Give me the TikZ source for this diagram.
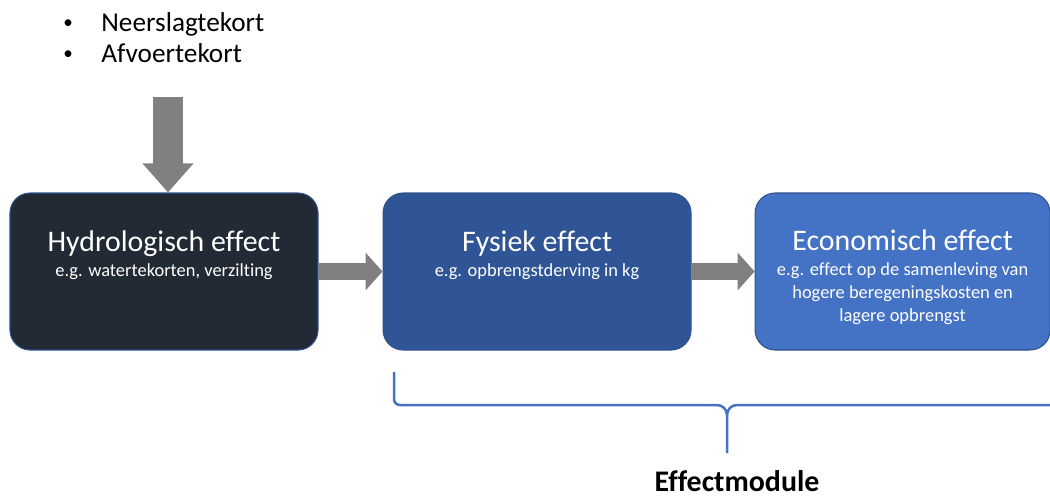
\documentclass[tikz,border=0pt]{standalone}
\usepackage{fontspec}
\setmainfont{Carlito}[Ligatures=NoCommon]
\usetikzlibrary{positioning,arrows.meta}
\definecolor{hydrocol}{HTML}{222A35}
\definecolor{fysiekcol}{HTML}{2F5597}
\definecolor{ecocol}{HTML}{4472C4}
\definecolor{rimcol}{HTML}{2F528F}
\definecolor{arrowgray}{HTML}{808080}
\newcommand{\inbullet}{\makebox[0.8cm][l]{\hspace{0.04cm}\raisebox{0.1em}{\scalebox{0.7}{\textbullet}}}}
\tikzset{
  effectbox/.style={draw=rimcol, line width=0.6pt, rounded corners=0.4cm, minimum height=3.14cm, inner sep=0pt},
  boxtitle/.style={text=white, font=\fontsize{17}{20}\selectfont, anchor=base, inner sep=0pt},
  boxsub/.style={text=white, font=\fontsize{10.5}{13}\selectfont, align=center, anchor=north, inner sep=0pt},
  flow/.style={draw=arrowgray, line width=0.34cm, -{Triangle[length=0.34cm,width=0.74cm]}},
  flowdown/.style={draw=arrowgray, line width=0.6cm, -{Triangle[length=0.58cm,width=0.98cm]}},
  brace/.style={draw=ecocol, line width=0.05cm},
}

\begin{document}
\begin{tikzpicture}
\useasboundingbox (0,0) rectangle (21,-9.92);
\clip (0,0) rectangle (21,-9.92);
\node[anchor=north west, align=left, inner sep=0pt, font=\fontsize{15.5}{17.6}\selectfont] (inputs) at (1.22,-0.24)
  {\inbullet Neerslagtekort\\\inbullet Afvoertekort};

\node[effectbox, fill=hydrocol, minimum width=6.16cm] (hydro) at (3.28,-5.43) {};
\node[effectbox, fill=fysiekcol, minimum width=6.16cm, right=1.28cm of hydro] (fysiek) {};
\node[effectbox, fill=ecocol, minimum width=5.9cm, right=1.26cm of fysiek] (eco) {};

\node[boxtitle] (hydrot) at ([yshift=-1.18cm]hydro.north) {Hydrologisch effect};
\node[boxsub] (hydros) at ([yshift=-1.42cm]hydro.north) {e.g. watertekorten, verzilting};
\node[boxtitle] (fysiekt) at ([yshift=-1.18cm]fysiek.north) {Fysiek effect};
\node[boxsub] (fysieks) at ([yshift=-1.42cm]fysiek.north) {e.g. opbrengstderving in kg};
\node[boxtitle] (ecot) at ([yshift=-1.16cm]eco.north) {Economisch effect};
\node[boxsub] (ecos) at ([yshift=-1.4cm]eco.north)
  {e.g. effect op de samenleving van\\hogere beregeningskosten en\\lagere opbrengst};

\coordinate (intop) at (3.36,-1.94);
\draw[flowdown] (intop) -- (intop |- hydro.north);
\draw[flow] (hydro) -- (fysiek);
\draw[flow] (fysiek) -- (eco);

\coordinate (bracetip) at (14.54,-9.06);
\draw[brace] (7.88,-7.44) -- (7.88,-7.98) to[out=-90,in=180] (8.0,-8.1) -- (14.34,-8.1)
  to[out=0,in=90] (14.54,-8.3) -- (bracetip);
\draw[brace] (14.54,-8.3) to[out=90,in=180] (14.74,-8.1) -- (21.2,-8.1);
\node[font=\bfseries\fontsize{17}{20}\selectfont, anchor=base, inner sep=0pt] (module) at (14.74,-9.82) {Effectmodule};
\end{tikzpicture}
\end{document}
